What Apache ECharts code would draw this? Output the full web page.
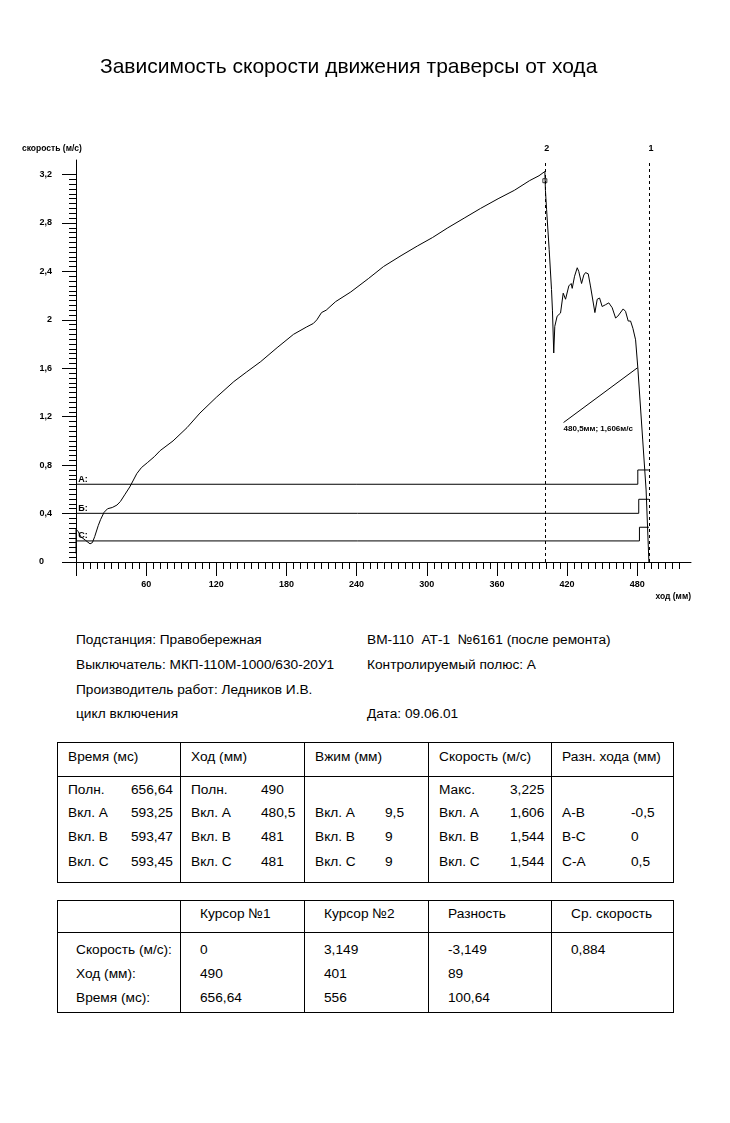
<!DOCTYPE html>
<html>
<head>
<meta charset="utf-8">
<script src="https://cdn.jsdelivr.net/npm/echarts@6/dist/echarts.min.js"></script>
<style>
  html, body { margin:0; padding:0; background:#fff; }
  #page { position:relative; width:730px; height:1123px; overflow:hidden; }
  #chart { position:absolute; left:0; top:0; width:730px; height:620px; }
  .t { position:absolute; font-family:'Liberation Sans', Arial, sans-serif; font-size:13.7px; color:#000; line-height:16px; white-space:pre; }
  .hl { position:absolute; height:1px; background:#000; }
  .vl { position:absolute; width:1px; background:#000; }
</style>
</head>
<body>
<div id="page">
  <div id="chart"></div>
  <div id="info"></div>
</div>
<script>
// ---------- chart data ----------
const travelMm = [0, 0, 2, 4, 8, 12, 14, 16, 19, 21, 24, 27, 31, 35, 38, 42, 46, 52, 56, 61, 67, 72, 83, 95, 106, 120, 135, 146, 158, 172, 186, 197, 203, 206, 210, 214, 222, 235, 250, 263, 278, 292, 305, 318, 332, 346, 361, 375, 388, 396, 401,
  401.5, 402.5, 404.7, 406.7, 407.5, 408.6, 409.5, 411.5, 414.4, 416.7, 418.7, 421.5, 423.5, 424.4, 426.4, 428.7, 430, 432.4, 434.3, 435.8, 438.1, 440, 443.8, 445.8, 447.8, 450, 452.9, 455.7, 458.6, 461.5, 463.4, 468, 470, 472.3, 474.3, 476.3, 478.6, 480.5, 484.7, 487.6, 490];
const speedMs = [0.07, 0.27, 0.25, 0.21, 0.18, 0.15, 0.16, 0.21, 0.30, 0.35, 0.41, 0.44, 0.45, 0.47, 0.50, 0.56, 0.62, 0.73, 0.78, 0.82, 0.87, 0.92, 1.00, 1.11, 1.23, 1.36, 1.49, 1.57, 1.655, 1.77, 1.88, 1.94, 1.97, 2.00, 2.06, 2.08, 2.15, 2.23, 2.34, 2.44, 2.53, 2.61, 2.68, 2.76, 2.84, 2.92, 3.00, 3.07, 3.15, 3.19, 3.225,
  3.07, 2.91, 2.58, 2.25, 2.08, 1.726, 1.946, 2.03, 2.056, 2.22, 2.17, 2.28, 2.30, 2.26, 2.36, 2.43, 2.40, 2.30, 2.37, 2.39, 2.38, 2.28, 2.06, 2.17, 2.18, 2.11, 2.125, 2.14, 2.10, 2.015, 2.03, 2.09, 2.07, 1.99, 1.99, 1.93, 1.835, 1.606, 1.008, 0.595, 0];

const cursorTravelMm = [490, 401];
const cursorNames = ['1', '2'];
const cursor2Point = [401, 3.149];

const contactNames = ['А:', 'Б:', 'С:'];
const contactLowMs = [0.642, 0.402, 0.174];
const contactHighMs = [0.76, 0.518, 0.287];
const contactSwitchMm = [480.5, 481.3, 481.9];
const contactEndMm = 490;

const annotationPoint = [480.5, 1.606];
const annotationTextPoint = [417, 1.152];
const annotationText = '480,5мм; 1,606м/с';

const xTickLabels = [60, 120, 180, 240, 300, 360, 420, 480];
const xMajorTicks = [0, 60, 120, 180, 240, 300, 360, 420, 480];
const yTickLabels = [0, 0.4, 0.8, 1.2, 1.6, 2, 2.4, 2.8, 3.2];
const xMax = 526, yMax = 3.32;

// ---------- info / tables data ----------
const infoLeft = ['Подстанция: Правобережная', 'Выключатель: МКП-110М-1000/630-20У1', 'Производитель работ: Ледников И.В.', 'цикл включения'];
const infoRight = ['ВМ-110  АТ-1  №6161 (после ремонта)', 'Контролируемый полюс: А', '', 'Дата: 09.06.01'];
const t1Headers = ['Время (мс)', 'Ход (мм)', 'Вжим (мм)', 'Скорость (м/с)', 'Разн. хода (мм)'];
const t1Rows = [
  [['Полн.', '656,64'], ['Полн.', '490'], ['', ''], ['Макс.', '3,225'], ['', '']],
  [['Вкл. А', '593,25'], ['Вкл. А', '480,5'], ['Вкл. А', '9,5'], ['Вкл. А', '1,606'], ['А-В', '-0,5']],
  [['Вкл. В', '593,47'], ['Вкл. В', '481'], ['Вкл. В', '9'], ['Вкл. В', '1,544'], ['В-С', '0']],
  [['Вкл. С', '593,45'], ['Вкл. С', '481'], ['Вкл. С', '9'], ['Вкл. С', '1,544'], ['С-А', '0,5']]
];
const t2Headers = ['', 'Курсор №1', 'Курсор №2', 'Разность', 'Ср. скорость'];
const t2Rows = [
  ['Скорость (м/с):', '0', '3,149', '-3,149', '0,884'],
  ['Ход (мм):', '490', '401', '89', ''],
  ['Время (мс):', '656,64', '556', '100,64', '']
];

// ---------- chart ----------
const FONT = "'Liberation Sans', Arial, sans-serif";
const xMinor = []; for (let v = 0; v <= 516; v += 6) xMinor.push(v);
const yMinor = []; for (let i = 0; i <= 80; i++) yMinor.push(+(i * 0.04).toFixed(2));

const speedData = travelMm.map((x, i) => [x, speedMs[i]]);
const contactSeries = contactNames.map((name, i) => ({
  type: 'line', name: 'contact' + i, symbol: 'none', silent: true,
  lineStyle: { color: '#000', width: 1 },
  data: [[0, contactLowMs[i]], [contactSwitchMm[i], contactLowMs[i]], [contactSwitchMm[i], contactHighMs[i]], [contactEndMm, contactHighMs[i]]],
  markPoint: {
    symbol: 'circle', symbolSize: 0, silent: true,
    label: { show: true, position: 'right', distance: 0, offset: [0, -5], color: '#000', fontFamily: FONT, fontWeight: 'bold', fontSize: 9, formatter: name },
    data: [{ coord: [2.0, contactLowMs[i]] }]
  }
}));

const chart = echarts.init(document.getElementById('chart'), null, { renderer: 'canvas' });
chart.setOption({
  animation: false,
  backgroundColor: '#fff',
  title: [
    { text: 'Зависимость скорости движения траверсы от хода', left: 100, top: 57, padding: 0, textStyle: { fontFamily: FONT, fontWeight: 'normal', fontSize: 21, color: '#000' } },
    { text: 'скорость (м/с)', left: 22, top: 144, padding: 0, textStyle: { fontFamily: FONT, fontWeight: 'bold', fontSize: 8.5, color: '#000' } },
    { text: 'ход (мм)', right: 39, top: 592, padding: 0, textStyle: { fontFamily: FONT, fontWeight: 'bold', fontSize: 8.5, color: '#000' } }
  ],
  grid: { left: 76, top: 160, width: 615, height: 402, containLabel: false },
  xAxis: [
    { type: 'value', position: 'bottom', min: 0, max: xMax,
      axisLine: { show: true, lineStyle: { color: '#000', width: 1 } },
      axisTick: { show: true, length: 14, lineStyle: { color: '#000', width: 1 }, customValues: xMajorTicks },
      axisLabel: { show: true, customValues: xTickLabels, margin: 18, color: '#000', fontFamily: FONT, fontWeight: 'bold', fontSize: 9 },
      splitLine: { show: false } },
    { type: 'value', position: 'bottom', min: 0, max: xMax,
      axisLine: { show: false },
      axisTick: { show: true, length: 7, lineStyle: { color: '#000', width: 1 }, customValues: xMinor },
      axisLabel: { show: false }, splitLine: { show: false } }
  ],
  yAxis: [
    { type: 'value', position: 'left', min: 0, max: yMax,
      axisLine: { show: true, lineStyle: { color: '#000', width: 1 } },
      axisTick: { show: true, length: 14, lineStyle: { color: '#000', width: 1 }, customValues: yTickLabels },
      axisLabel: { show: true, customValues: yTickLabels, margin: 24, color: '#000', fontFamily: FONT, fontWeight: 'bold', fontSize: 9,
        formatter: v => v === 0 ? '{z|0}' : String(v).replace('.', ','),
        rich: { z: { fontFamily: FONT, fontWeight: 'bold', fontSize: 9, color: '#000', padding: [0, 8, 0, 0] } } },
      splitLine: { show: false } },
    { type: 'value', position: 'left', min: 0, max: yMax,
      axisLine: { show: false },
      axisTick: { show: true, length: 7, lineStyle: { color: '#000', width: 1 }, customValues: yMinor },
      axisLabel: { show: false }, splitLine: { show: false } }
  ],
  series: [
    { type: 'line', name: 'speed', symbol: 'none', silent: true,
      lineStyle: { color: '#000', width: 1 },
      data: speedData,
      markLine: {
        silent: true, symbol: 'none',
        data: [
          ...cursorTravelMm.map((x, i) => ({ xAxis: x, lineStyle: { type: [3, 3], color: '#000', width: 1 },
            label: { show: true, position: 'end', distance: 7, offset: [2, 0], formatter: cursorNames[i], color: '#000', fontFamily: FONT, fontWeight: 'bold', fontSize: 9 } })),
          [ { coord: annotationPoint, lineStyle: { type: 'solid', color: '#000', width: 1 }, label: { show: false } }, { coord: annotationTextPoint } ]
        ]
      },
      markPoint: {
        symbol: 'circle', symbolSize: 0, silent: true,
        label: { show: true, position: 'right', distance: 0, offset: [0, 6], color: '#000', fontFamily: FONT, fontWeight: 'bold', fontSize: 8, formatter: annotationText },
        data: [{ coord: annotationTextPoint }]
      }
    },
    ...contactSeries,
    { type: 'scatter', name: 'cursor2', symbol: 'rect', symbolSize: 4, silent: true,
      itemStyle: { color: '#fff', borderColor: '#000', borderWidth: 1 },
      data: [cursor2Point] }
  ]
});

// ---------- info & tables (HTML) ----------
const info = document.getElementById('info');
function txt(s, x, yc) { if (!s) return; const d = document.createElement('div'); d.className = 't'; d.textContent = s; d.style.left = x + 'px'; d.style.top = (yc - 8) + 'px'; info.appendChild(d); }
function hl(x1, x2, y) { const d = document.createElement('div'); d.className = 'hl'; d.style.left = x1 + 'px'; d.style.width = (x2 - x1 + 1) + 'px'; d.style.top = y + 'px'; info.appendChild(d); }
function vl(x, y1, y2) { const d = document.createElement('div'); d.className = 'vl'; d.style.left = x + 'px'; d.style.top = y1 + 'px'; d.style.height = (y2 - y1 + 1) + 'px'; info.appendChild(d); }

const infoY = [640, 665, 690, 714];
infoLeft.forEach((s, i) => txt(s, 76, infoY[i]));
infoRight.forEach((s, i) => txt(s, 367, infoY[i]));

const colX = [57, 180, 304, 428, 551, 673];
const valX = [131, 261, 385, 510, 631];
// table 1
hl(57, 673, 742); hl(57, 673, 776); hl(57, 673, 882);
colX.forEach(x => vl(x, 742, 882));
t1Headers.forEach((h, c) => txt(h, colX[c] + 11, 757));
const t1Y = [790, 813, 837, 862];
t1Rows.forEach((row, r) => row.forEach((cell, c) => { txt(cell[0], colX[c] + 11, t1Y[r]); txt(cell[1], valX[c], t1Y[r]); }));
// table 2
hl(57, 673, 900); hl(57, 673, 932); hl(57, 673, 1012);
colX.forEach(x => vl(x, 900, 1012));
t2Headers.forEach((h, c) => txt(h, colX[c] + 20, 914));
const t2Y = [950, 974, 998];
t2Rows.forEach((row, r) => row.forEach((cell, c) => txt(cell, c === 0 ? 76 : colX[c] + 20, t2Y[r])));
</script>
</body>
</html>
